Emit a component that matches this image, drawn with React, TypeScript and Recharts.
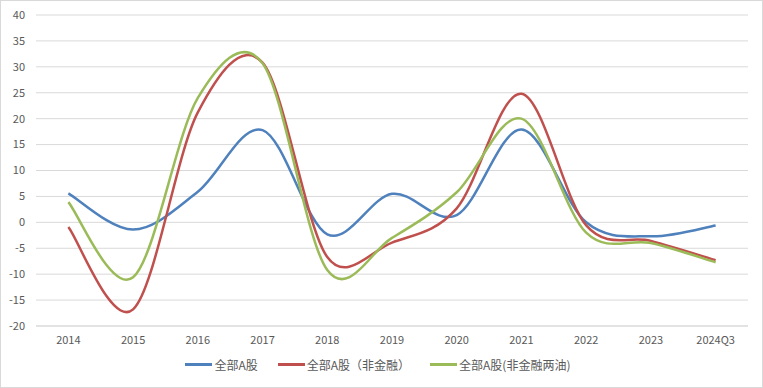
import React from 'react';
import { LineChart, Line, XAxis, YAxis, CartesianGrid, Legend } from 'recharts';

const categories = ['2014', '2015', '2016', '2017', '2018', '2019', '2020', '2021', '2022', '2023', '2024Q3'];
const allA = [5.6, -1.4, 5.9, 17.8, -2.3, 5.5, 1.4, 17.9, 0.0, -2.7, -0.6];
const nonFin = [-0.9, -16.8, 21.2, 30.8, -6.7, -3.9, 2.7, 24.8, -0.6, -3.6, -7.3];
const nonFinOil = [3.9, -10.6, 24.0, 30.7, -9.2, -3.0, 5.8, 20.0, -2.0, -4.0, -7.7];
const yTicks = [-20, -15, -10, -5, 0, 5, 10, 15, 20, 25, 30, 35, 40];
const seriesOrder = ['allA', 'nonFin', 'nonFinOil'];

const data = categories.map((name, i) => ({
  name,
  allA: allA[i],
  nonFin: nonFin[i],
  nonFinOil: nonFinOil[i],
}));

// Excel-like smoothing: Catmull-Rom bezier, handles capped at half the segment
const excelCurve = (context: any) => {
  let pts: number[][] = [];
  const dist = (a: number[], b: number[]) => Math.hypot(b[0] - a[0], b[1] - a[1]);
  return {
    areaStart() {},
    areaEnd() {},
    lineStart() {
      pts = [];
    },
    point(x: number, y: number) {
      pts.push([+x, +y]);
    },
    lineEnd() {
      const n = pts.length;
      if (!n) return;
      context.moveTo(pts[0][0], pts[0][1]);
      for (let i = 0; i < n - 1; i++) {
        const p0 = pts[i - 1] || pts[i];
        const p1 = pts[i];
        const p2 = pts[i + 1];
        const p3 = pts[i + 2] || p2;
        const d12 = dist(p1, p2);
        const d02 = dist(p0, p2) || 1;
        const d13 = dist(p1, p3) || 1;
        const f1 = d02 / 6 < d12 / 2 ? 1 / 6 : d12 / d02 / 2;
        const f2 = d13 / 6 < d12 / 2 ? 1 / 6 : d12 / d13 / 2;
        context.bezierCurveTo(
          p1[0] + (p2[0] - p0[0]) * f1,
          p1[1] + (p2[1] - p0[1]) * f1,
          p2[0] - (p3[0] - p1[0]) * f2,
          p2[1] - (p3[1] - p1[1]) * f2,
          p2[0],
          p2[1]
        );
      }
    },
  };
};

const font = '"Noto Sans CJK SC", "Microsoft YaHei", sans-serif';

const renderLegend = (props: any) => {
  const items = [...props.payload].sort(
    (a: any, b: any) => seriesOrder.indexOf(a.dataKey) - seriesOrder.indexOf(b.dataKey)
  );
  return (
    <div
      style={{
        display: 'flex',
        justifyContent: 'center',
        paddingLeft: 8,
        fontFamily: font,
        fontSize: 12,
        color: '#595959',
      }}
    >
      {items.map((entry: any) => (
        <div key={entry.value} style={{ display: 'flex', alignItems: 'center', margin: '0 10px' }}>
          <span style={{ display: 'inline-block', width: 27, height: 3, background: entry.color, marginRight: 2 }} />
          <span>{entry.value}</span>
        </div>
      ))}
    </div>
  );
};

const App: React.FC = () => {
  return (
    <div style={{ position: 'absolute', left: 0, top: 0, width: 763, height: 388, background: '#fff' }}>
      <LineChart width={763} height={388} data={data} margin={{ top: 15, right: 15, left: 0, bottom: 0 }}>
        <CartesianGrid vertical={false} stroke="#d9d9d9" />
        <XAxis
          dataKey="name"
          scale="band"
          axisLine={{ stroke: '#d9d9d9' }}
          tickLine={false}
          tickSize={6}
          tickMargin={4}
          height={30}
          interval={0}
          tick={{ fill: '#595959', fontSize: 11, fontFamily: font }}
        />
        <YAxis
          domain={[-20, 40]}
          ticks={yTicks}
          width={36}
          axisLine={false}
          tickLine={false}
          tickSize={6}
          tickMargin={5}
          interval={0}
          tick={{ fill: '#595959', fontSize: 11, fontFamily: font }}
        />
        <Legend verticalAlign="bottom" height={32} content={renderLegend} />
        <Line dataKey="allA" name="全部A股" stroke="#4f81bd" strokeWidth={2.5} type={excelCurve as any} dot={false} isAnimationActive={false} />
        <Line dataKey="nonFin" name="全部A股（非金融）" stroke="#c0504d" strokeWidth={2.5} type={excelCurve as any} dot={false} isAnimationActive={false} />
        <Line dataKey="nonFinOil" name="全部A股(非金融两油)" stroke="#9bbb59" strokeWidth={2.5} type={excelCurve as any} dot={false} isAnimationActive={false} />
      </LineChart>
      <div style={{ position: 'absolute', inset: 0, border: '1px solid #d9d9d9', pointerEvents: 'none' }} />
    </div>
  );
};

export default App;
